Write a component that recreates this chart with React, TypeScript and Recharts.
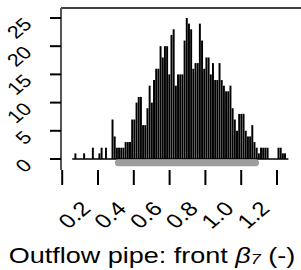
import { Bar, ComposedChart, ReferenceLine, XAxis, YAxis } from 'recharts';

// histogram of posterior draws, bins of equal width
const binLo = 0.056;
const binWidth = 0.0122;
const counts = [
  0, 1, 0, 0, 0, 1, 0, 0, 0, 2, 0, 0, 1, 2, 0, 2, 0, 0, 7, 4,
  2, 2, 2, 2, 3, 3, 3, 7, 7, 10, 11, 11, 6, 6, 9, 13, 10, 14, 16, 16,
  20, 18, 20, 20, 15, 22, 23, 13, 15, 15, 15, 21, 25, 24, 23, 16, 17, 17, 24, 21,
  16, 18, 18, 15, 17, 14, 14, 17, 14, 13, 12, 12, 13, 9, 7, 5, 8, 8, 8, 5,
  4, 4, 6, 3, 2, 1, 2, 2, 2, 2, 0, 0, 0, 0, 2, 2, 1, 1, 0,
];
const xTicks = [0, 0.2, 0.4, 0.6, 0.8, 1.0, 1.2];
const yTicks = [0, 5, 10, 15, 20, 25];
const interval = [0.314, 1.08];

const FONT = '"Liberation Sans", Arial, sans-serif';
const STRETCH = 1.2;
const X_DOMAIN: [number, number] = [-0.0067, 1.334];
const Y_DOMAIN: [number, number] = [-1.95, 26.77];

const data = counts.map((c, i) => ({ x: binLo + (i + 0.5) * binWidth, count: c }));

function TiltedLabel({ ax, ay, size, children }: any) {
  return (
    <text x={0} y={0} transform={`translate(${ax} ${ay}) scale(${STRETCH} 1) rotate(-45)`}
      textAnchor="end" fontSize={size} fontFamily={FONT} fill="#000">
      {children}
    </text>
  );
}

function XTick({ x, y, payload }: any) {
  const v = payload.value as number;
  if (v === 0) return <g />;
  return <TiltedLabel ax={x - 6} ay={y + 25} size={20}>{v.toFixed(1)}</TiltedLabel>;
}

function YTick({ x, y, payload }: any) {
  return <TiltedLabel ax={x - 17} ay={y + 7.5} size={18}>{payload.value}</TiltedLabel>;
}

function Title() {
  return (
    <text x={0} y={0} transform={`translate(152 263) scale(${STRETCH} 1)`} textAnchor="middle"
      fontSize={22.5} fontFamily={FONT} fill="#000">
      Outflow pipe: front <tspan fontStyle="italic">β</tspan>
      <tspan fontStyle="italic" fontSize={15} dy={1}>7</tspan>
      <tspan dy={-1}> (-)</tspan>
    </text>
  );
}

export default function App() {
  const binHi = binLo + counts.length * binWidth;
  return (
    <div style={{ position: 'absolute', left: 0, top: 0, background: '#fff' }}>
      <ComposedChart width={301} height={270} data={data}
        margin={{ top: 8, right: 0, bottom: 0, left: 0 }}>
        <XAxis dataKey="x" type="number" domain={X_DOMAIN} ticks={xTicks}
          allowDataOverflow height={100} axisLine={false} tickSize={15} tickMargin={0}
          tickLine={{ stroke: '#000', strokeWidth: 2 }} tick={<XTick />}
          label={{ content: () => <Title /> }} />
        <YAxis type="number" domain={Y_DOMAIN} ticks={yTicks} allowDataOverflow
          width={61} tickSize={11} tickMargin={0}
          axisLine={{ stroke: '#555', strokeWidth: 2 }}
          tickLine={{ stroke: '#000', strokeWidth: 2 }} tick={<YTick />} />
        <ReferenceLine y={Y_DOMAIN[1]} stroke="#000" strokeWidth={1.5} ifOverflow="visible" />
        <Bar dataKey="count" fill="#000" barSize={2.5} isAnimationActive={false} />
        <ReferenceLine segment={[{ x: binLo, y: 0 }, { x: binHi, y: 0 }]}
          stroke="#000" strokeWidth={1.5} />
        <ReferenceLine segment={[{ x: interval[0], y: -0.65 }, { x: interval[1], y: -0.65 }]}
          stroke="#9e9e9e" strokeWidth={7} strokeLinecap="round" />
      </ComposedChart>
    </div>
  );
}
